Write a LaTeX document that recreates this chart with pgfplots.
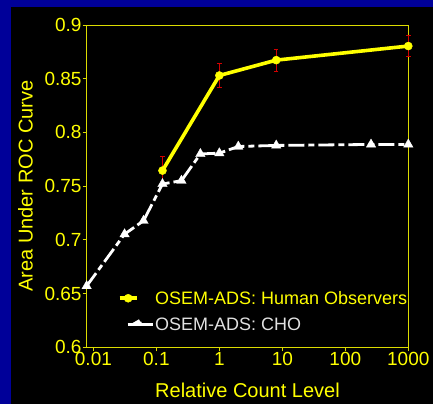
\documentclass[border=0pt]{standalone}
\usepackage{pgfplots}
\pgfplotsset{compat=1.18}
\usepackage{fontspec}
\setmainfont{Liberation Sans}
\definecolor{bgblue}{RGB}{0,0,153}
\definecolor{ylw}{RGB}{255,255,0}
\definecolor{frame}{RGB}{220,220,0}
\definecolor{chogrey}{RGB}{225,225,225}
\definecolor{ebred}{RGB}{210,0,0}
\begin{document}
\begin{tikzpicture}[x=1pt,y=1pt]
\fill[bgblue] (0,0) rectangle (433,404);
\fill[black] (11,0) rectangle (433,397);
\begin{axis}[
  at={(86.7pt,56.7pt)}, anchor=south west,
  scale only axis, width=321.6pt, height=322.3pt,
  xmode=log, xmin=0.00783, xmax=1000,
  ymin=0.6, ymax=0.9,
  xtick={0.01,0.1,1,10,100,1000},
  xticklabels={0.01,0.1,1,10,100,1000},
  ytick={0.6,0.65,0.7,0.75,0.8,0.85,0.9},
  yticklabels={0.6,0.65,0.7,0.75,0.8,0.85,0.9},
  minor tick num=0, xminorticks=false, yminorticks=false,
  tick pos=left, tick align=outside, major tick length=4pt,
  axis line style={frame, line width=0.8pt},
  tick style={frame, line width=0.8pt},
  ticklabel style={font=\fontsize{19}{22}\selectfont, text=ylw},
  /pgf/number format/assume math mode=true,
  xticklabel style={inner sep=1pt},
  yticklabel style={inner sep=1pt},
  xlabel={Relative Count Level},
  ylabel={Area Under ROC Curve},
  label style={font=\fontsize{20}{24}\selectfont, text=ylw, inner sep=0pt},
  xlabel style={at={(axis description cs:0.5,0)}, anchor=north, yshift=-36pt},
  ylabel style={at={(axis description cs:-0.167,0.5)}, anchor=south},
  clip=false,
  legend style={draw=none, fill=none, at={(1,0.045)}, anchor=south east,
    font=\fontsize{18}{21}\selectfont, row sep=10pt, inner sep=0pt,
    nodes={inner sep=1pt}},
  legend cell align=left,
]
\addplot[ylw, line width=3.6pt, mark=*, mark size=4pt,
  mark options={solid, fill=ylw, draw=ylw, line width=0.5pt},
  error bars/.cd, y dir=both, y explicit,
  error bar style={ebred, line width=0.7pt},
  error mark options={ebred, mark size=2.2pt, line width=0.7pt, rotate=90},
  ] coordinates {
  (0.125,0.7645) +- (0,0.013)
  (1,0.853) +- (0,0.011)
  (8,0.8673) +- (0,0.0103)
  (1000,0.8804) +- (0,0.0097)
};
\addlegendentry{\textcolor{ylw}{OSEM-ADS: Human Observers}}
\addplot[white, line width=2.8pt, dash pattern=on 16pt off 4pt on 6pt off 4pt,
  mark=triangle*, mark size=5.5pt, mark options={solid, fill=white, draw=white, line width=0.3pt},
  legend image code/.code={\draw[white, line width=2.8pt, solid] (8pt,0pt) -- (33pt,0pt);
     \fill[white] (20pt,0pt) ++(90:4pt) -- ++(210:6.9pt) -- ++(0:6.9pt) -- cycle;},
  ] coordinates {
  (0.0078125,0.657)
  (0.03125,0.7053)
  (0.0625,0.7178)
  (0.125,0.752)
  (0.25,0.7551)
  (0.5,0.780)
  (1,0.7807)
  (2,0.7869)
  (8,0.7879)
  (256,0.7888)
  (1000,0.7888)
};
\addlegendentry{\textcolor{chogrey}{OSEM-ADS: CHO}}
\end{axis}
\end{tikzpicture}
\end{document}
